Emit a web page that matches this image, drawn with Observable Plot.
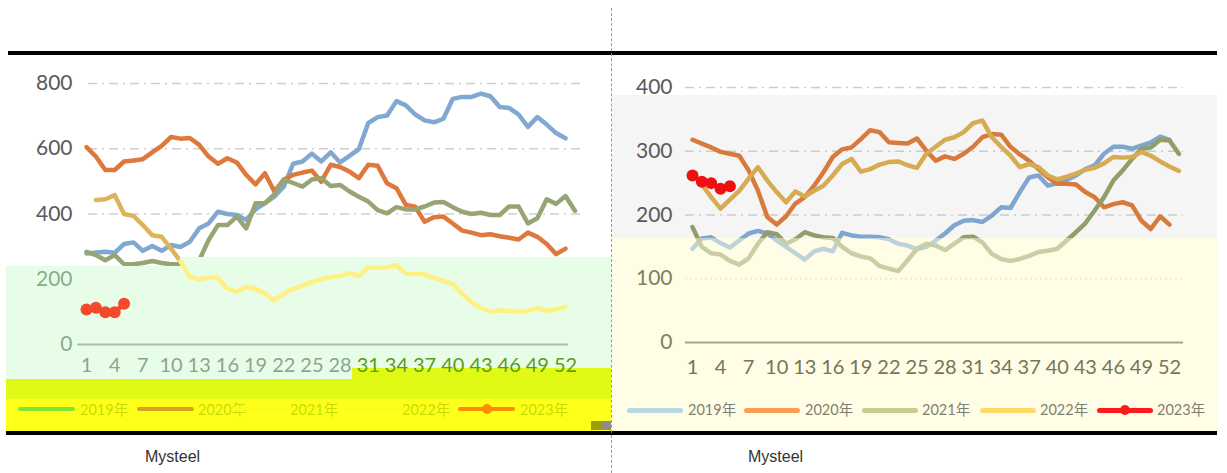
<!DOCTYPE html>
<html><head><meta charset="utf-8">
<script src="https://cdn.jsdelivr.net/npm/d3@7"></script>
<script src="https://cdn.jsdelivr.net/npm/@observablehq/plot@0.6"></script>
<style>
html,body{margin:0;padding:0;background:#fff;}
#wrap{position:relative;width:1227px;height:473px;overflow:hidden;}
.abs{position:absolute;}
.leg{position:absolute;top:400px;height:20px;line-height:20px;font-size:14.5px;font-family:Lato,"Noto Sans CJK SC",sans-serif;white-space:nowrap;}
.sw{position:absolute;height:5px;border-radius:3px;}
.dotm{position:absolute;width:10px;height:10px;border-radius:50%;}
.brand{position:absolute;top:448px;font:16px "Liberation Sans",Arial,sans-serif;color:#333;}
</style></head>
<body><div id="wrap">
<div id="leftPanel" class="abs" style="left:0;top:0;width:611px;height:473px"></div>
<div id="rightPanel" class="abs" style="left:611px;top:0;width:616px;height:473px"></div>
</div>
<script>
// ---------- data ----------
const weekTicks = d3.range(1, 53, 3);
const leftYTicks = [0, 200, 400, 600, 800];
const rightYTicks = [0, 100, 200, 300, 400];
const years = ["2019年", "2020年", "2021年", "2022年", "2023年"];

const left2019 = [279,282,284,281,308,313,287,302,287,305, 299,315,356,371,407,400,397,382,414,433,
  453,484,554,561,585,561,589,558,578,599, 679,697,702,746,733,705,687,681,692,753,
  759,759,769,761,728,725,705,667,697,674, 648,632];
const left2020 = [605,576,535,535,561,564,568,589,609,636, 631,633,612,576,554,571,558,520,491,525,
  469,505,520,527,533,499,551,544,530,510, 551,548,494,479,428,422,376,390,392,371,
  349,343,335,338,332,327,322,343,330,308, 277,294];
const left2021 = [284,274,258,274,246,246,250,256,250,246, 246,250,258,320,366,366,392,356,433,433,
  460,506,495,484,506,510,486,489,469,453, 438,412,402,421,414,414,423,435,437,421,
  407,400,404,397,397,423,423,371,387,445, 431,455,410];
const left2022 = [null,443,445,458,400,394,366,335,330,294, 255,207,200,205,204,171,162,176,171,156,
  135,156,170,180,192,200,207,210,219,210, 236,236,236,243,217,216,215,203,195,185,
  156,130,112,100,104,103,100,104,112,102, 108,115];
const left2023 = [107,113,99,99,125];

const right2019 = [147,163,165,156,149,160,171,175,171,160, 150,140,130,143,147,143,172,168,166,166,
  165,162,155,152,146,150,160,171,184,191, 192,189,199,212,211,236,259,262,246,250,
  255,262,272,278,296,307,307,304,309,314, 323,318];
const right2020 = [318,312,306,299,296,293,270,238,197,185, 198,218,228,246,267,291,303,306,319,333,
  330,314,313,312,320,301,285,292,288,296, 307,322,327,326,307,295,285,272,259,249,
  249,248,236,228,212,217,220,215,191,178, 198,185];
const right2021 = [181,150,140,138,128,122,132,155,173,170, 155,162,173,168,165,164,150,140,135,132,
  120,116,112,129,147,155,152,145,155,165, 166,157,139,131,128,131,136,142,144,147,
  160,173,187,207,228,254,270,288,304,306, 318,317,296];
const right2022 = [null,248,228,210,224,238,257,275,254,236, 220,237,229,238,246,262,280,288,268,272,
  279,283,284,278,274,296,307,318,322,330, 344,348,322,307,293,275,280,275,262,256,
  260,265,271,274,281,291,290,291,299,293, 284,276,269];
const right2023 = [262,252,250,241,245];

// ---------- helpers ----------
const toRows = vals => vals.map((v, i) => ({week: i + 1, v})).filter(d => d.v != null);
const SVGNS = "http://www.w3.org/2000/svg";
function rects(list, opacity = 1) {
  return () => {
    const g = document.createElementNS(SVGNS, "g");
    for (const [x, y, w, h, fill] of list) {
      const r = document.createElementNS(SVGNS, "rect");
      r.setAttribute("x", x); r.setAttribute("y", y);
      r.setAttribute("width", w); r.setAttribute("height", h);
      r.setAttribute("fill", fill); r.setAttribute("fill-opacity", opacity);
      g.appendChild(r);
    }
    return g;
  };
}
const font = "Lato, 'Noto Sans CJK SC', sans-serif";
const lineOpts = (stroke) => ({x: "week", y: "v", stroke, strokeWidth: 4.5, strokeLinejoin: "round", strokeLinecap: "round"});

// ---------- left panel ----------
const L = Plot.plot({
  width: 611, height: 473,
  marginLeft: 88, marginRight: 31, marginTop: 83, marginBottom: 129,
  style: {background: "transparent", fontFamily: font, overflow: "visible"},
  x: {domain: [1, 52], range: [86, 565], axis: null},
  y: {domain: [0, 800], range: [344, 83], axis: null},
  marks: [
    Plot.ruleY(leftYTicks.filter(v => v >= 400), {stroke: "#cfcfcf", strokeWidth: 1.5, strokeDasharray: "9,5,2,5"}),
    Plot.line(toRows(left2019), lineOpts("#80a8d0")),
    Plot.line(toRows(left2020), lineOpts("#de783c")),
    Plot.line(toRows(left2021), lineOpts("#96a573")),
    Plot.line(toRows(left2022).filter(d => d.week <= 11), lineOpts("#deb45a")),
    rects([
      [6, 266, 175, 114, "#e8fde8"],
      [180, 257, 431, 123, "#e8fde8"],
      [6, 379, 605, 21, "#e0fa16"],
      [352, 368, 259, 12, "#e0fa16"],
      [6, 399, 605, 32, "#ffff1c"]
    ]),
    Plot.line(toRows(left2022).filter(d => d.week >= 11), lineOpts("#fff082")),
    Plot.line(toRows(left2023), lineOpts("#f4492a")),
    Plot.dot(toRows(left2023), {x: "week", y: "v", r: 6, fill: "#f4492a"}),
    Plot.ruleY([0], {stroke: "#a6c4a6", strokeWidth: 2, insetLeft: -11, insetRight: 12}),
    Plot.text(leftYTicks.filter(v => v >= 400), {y: d => d, text: d => String(d), frameAnchor: "left", textAnchor: "end", dx: -16, fontSize: 21, fill: "#595959"}),
    Plot.text(leftYTicks.filter(v => v < 400), {y: d => d, text: d => String(d), frameAnchor: "left", textAnchor: "end", dx: -16, fontSize: 21, fill: "#8cab8c"}),
    Plot.text(weekTicks.filter(w => w <= 28), {x: d => d, text: d => String(d), frameAnchor: "bottom", dy: 27, fontSize: 20, fill: "#8aa68a"}),
    Plot.text(weekTicks.filter(w => w > 28), {x: d => d, text: d => String(d), frameAnchor: "bottom", dy: 27, fontSize: 20, fill: "#5c9c16"})
  ]
});
document.getElementById("leftPanel").appendChild(L);

// ---------- right panel ----------
const R = Plot.plot({
  width: 616, height: 473,
  marginLeft: 74, marginRight: 44, marginTop: 87, marginBottom: 131,
  style: {background: "transparent", fontFamily: font, overflow: "visible"},
  x: {domain: [1, 52], range: [81, 558], axis: null},
  y: {domain: [0, 400], range: [342, 87], axis: null},
  marks: [
    rects([
      [1, 95, 605, 143, "#f5f5f5"],
      [1, 238, 605, 193, "#fffde6"]
    ]),
    Plot.ruleY(rightYTicks.filter(v => v >= 200), {stroke: "#cccccc", strokeWidth: 1.5, strokeDasharray: "9,5,2,5"}),
    Plot.line(toRows(right2019), lineOpts("#7ea6cf")),
    Plot.line(toRows(right2020), lineOpts("#d87a3c")),
    Plot.line(toRows(right2021), lineOpts("#929e68")),
    Plot.line(toRows(right2022), lineOpts("#d6ab52")),
    rects([[1, 238, 605, 193, "#fffde6"]], 0.5),
    Plot.ruleY([100], {stroke: "#efe8b8", strokeWidth: 1.5, strokeDasharray: "2,3"}),
    Plot.line(toRows(right2023), lineOpts("#ee1111")),
    Plot.dot(toRows(right2023), {x: "week", y: "v", r: 6, fill: "#ee1111"}),
    Plot.ruleY([0], {stroke: "#a8a880", strokeWidth: 2}),
    Plot.text(rightYTicks.filter(v => v >= 200), {y: d => d, text: d => String(d), frameAnchor: "left", textAnchor: "end", dx: -13, fontSize: 21, fill: "#595959"}),
    Plot.text(rightYTicks.filter(v => v < 200), {y: d => d, text: d => String(d), frameAnchor: "left", textAnchor: "end", dx: -13, fontSize: 21, fill: "#7f7f62"}),
    Plot.text(weekTicks, {x: d => d, text: d => String(d), frameAnchor: "bottom", dy: 31, fontSize: 20, fill: "#75755a"})
  ]
});
document.getElementById("rightPanel").appendChild(R);

// ---------- decorations & legends ----------
const wrap = document.getElementById("wrap");
function add(cls, style, text) {
  const d = document.createElement("div");
  d.className = cls;
  Object.assign(d.style, style);
  if (text != null) d.textContent = text;
  wrap.appendChild(d);
  return d;
}
add("abs", {left: "8px", top: "51px", width: "1209px", height: "4px", background: "#000"});
add("abs", {left: "6px", top: "431px", width: "1211px", height: "4px", background: "#000"});
add("abs", {left: "611px", top: "8px", width: "0", height: "465px", borderLeft: "1px dashed #9a9a9a"});
add("abs", {left: "591px", top: "421px", width: "11px", height: "9px", background: "#9aa000"});
add("abs", {left: "602px", top: "421px", width: "9px", height: "9px", background: "#8c8c8c"});

// left legend
const leftSw = ["#7ee832", "#d8a21c", "#fbfc1c", "#fbfc1c", "#ff8c00"];
const leftSwX = [18, 137, 232, 346, 458];
const leftTxX = [80, 198, 290, 402, 520];
years.forEach((y, i) => {
  add("sw", {left: leftSwX[i] + "px", top: "407px", width: "57px", height: "4px", background: leftSw[i]});
  add("leg", {left: leftTxX[i] + "px", color: "#c8dc00"}, y);
});
add("dotm", {left: "482px", top: "404px", background: "#ff8c00"});

// right legend
const rightSw = ["#b8d8e0", "#f8a050", "#c8cc8c", "#ffd966", "#ff1a1a"];
const rightSwX = [627, 744, 862, 980, 1097];
const rightTxX = [688, 805, 922, 1040, 1157];
years.forEach((y, i) => {
  add("sw", {left: rightSwX[i] + "px", top: "408px", width: "56px", background: rightSw[i]});
  add("leg", {left: rightTxX[i] + "px", color: "#7f7f70"}, y);
});
add("dotm", {left: "1120px", top: "405px", background: "#ff1a1a"});

add("brand", {left: "145px"}, "Mysteel");
add("brand", {left: "748px"}, "Mysteel");
</script>
</body></html>
